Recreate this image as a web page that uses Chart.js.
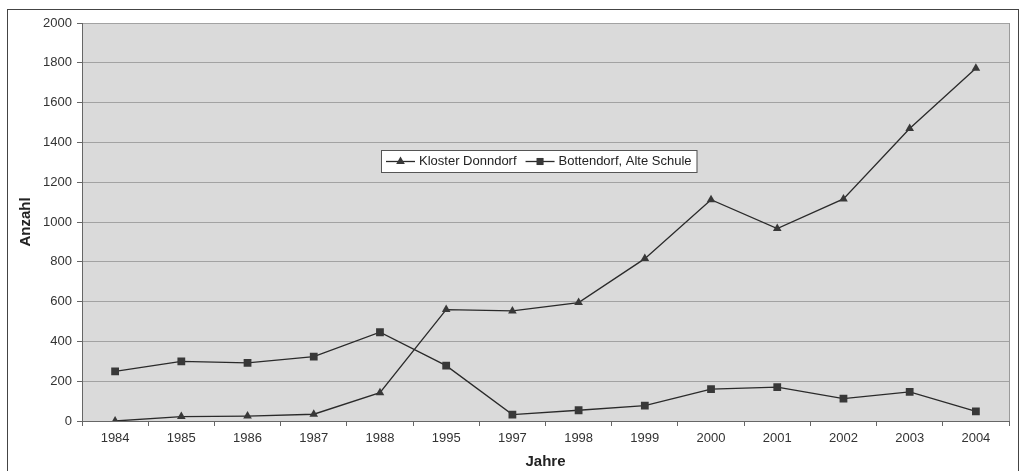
<!DOCTYPE html>
<html>
<head>
    <title>Kloster Donndorf / Bottendorf</title>
    <script src="https://cdn.jsdelivr.net/npm/chart.js"></script>
    <style>
        html, body { margin: 0; padding: 0; background: #fff; }
    </style>
</head>
<body>
    <canvas id="chart" width="1022" height="471"></canvas>

    <script>
    // Daten
    const jahre = ['1984', '1985', '1986', '1987', '1988', '1995', '1997', '1998', '1999', '2000', '2001', '2002', '2003', '2004'];
    const klosterDonndorf = [0, 22, 25, 34, 142, 560, 553, 595, 816, 1112, 967, 1116, 1470, 1773];
    const bottendorf = [249, 300, 292, 323, 446, 278, 32, 54, 77, 160, 170, 112, 146, 48];
    const yTicks = { min: 0, max: 2000, step: 200 };

    const lineColor = '#2a2a2a';
    const markColor = '#383838';
    const fontFamily = '"Liberation Sans", Arial, sans-serif';

    // Hintergrund, Rahmen
    const frame = {
        id: 'frame',
        beforeDraw(chart) {
            const { ctx, chartArea: a } = chart;
            ctx.save();
            ctx.fillStyle = '#fff';
            ctx.fillRect(0, 0, chart.width, chart.height);
            ctx.fillStyle = '#dadada';
            ctx.fillRect(a.left, a.top, a.right - a.left, a.bottom - a.top);
            ctx.strokeStyle = '#444';
            ctx.lineWidth = 1;
            ctx.strokeRect(7.5, 9.5, 1011, 470);
            ctx.strokeStyle = '#9a9a9a';
            ctx.beginPath();
            ctx.moveTo(a.right + 0.5, a.top);
            ctx.lineTo(a.right + 0.5, a.bottom);
            ctx.stroke();
            ctx.restore();
        }
    };

    // Legende im Diagramm (Linie mit Marker)
    const innerLegend = {
        id: 'innerLegend',
        afterDraw(chart) {
            const { ctx } = chart;
            ctx.save();
            ctx.font = '13px ' + fontFamily;
            ctx.textBaseline = 'middle';
            const items = chart.data.datasets.map(ds => ({
                label: ds.label, style: ds.pointStyle, w: ctx.measureText(ds.label).width
            }));
            const lineW = 29, gap = 4, itemGap = 9, padX = 5;
            let total = padX * 2;
            items.forEach((it, i) => { total += lineW + gap + it.w + (i ? itemGap : 0); });
            const cx = 539, top = 150, h = 22;
            const left = Math.round(cx - total / 2);
            ctx.fillStyle = '#fff';
            ctx.fillRect(left, top, total, h);
            ctx.strokeStyle = '#555';
            ctx.lineWidth = 1;
            ctx.strokeRect(left + 0.5, top + 0.5, total, h);
            let x = left + padX;
            const y = top + h / 2 + 0.5;
            items.forEach((it, i) => {
                if (i) x += itemGap;
                ctx.strokeStyle = lineColor;
                ctx.lineWidth = 1.3;
                ctx.beginPath();
                ctx.moveTo(x, y);
                ctx.lineTo(x + lineW, y);
                ctx.stroke();
                ctx.fillStyle = markColor;
                Chart.helpers.drawPoint(ctx, { pointStyle: it.style, radius: 5, rotation: 0, borderWidth: 0 }, x + lineW / 2, y);
                ctx.fillStyle = '#222';
                ctx.fillText(it.label, x + lineW + gap, y);
                x += lineW + gap + it.w;
            });
            ctx.restore();
        }
    };

    new Chart(document.getElementById('chart'), {
        type: 'line',
        data: {
            labels: jahre,
            datasets: [{
                label: 'Kloster Donndorf',
                data: klosterDonndorf,
                borderColor: lineColor,
                borderWidth: 1.3,
                pointStyle: 'triangle',
                pointRadius: 5,
                pointBackgroundColor: markColor,
                pointBorderColor: markColor,
                pointBorderWidth: 0,
                tension: 0
            }, {
                label: 'Bottendorf, Alte Schule',
                data: bottendorf,
                borderColor: lineColor,
                borderWidth: 1.3,
                pointStyle: 'rect',
                pointRadius: 5.5,
                pointBackgroundColor: markColor,
                pointBorderColor: markColor,
                pointBorderWidth: 0,
                tension: 0
            }]
        },
        options: {
            responsive: false,
            animation: false,
            layout: { padding: { top: 23, right: 13, left: 0, bottom: 0 } },
            plugins: {
                legend: { display: false },
                tooltip: { enabled: false }
            },
            scales: {
                x: {
                    offset: true,
                    afterFit: s => { s.height = 50; },
                    grid: {
                        offset: true,
                        drawOnChartArea: false,
                        drawTicks: true,
                        tickLength: 5,
                        color: '#666'
                    },
                    border: { display: true, color: '#666' },
                    ticks: {
                        color: '#333',
                        padding: 5,
                        maxRotation: 0,
                        font: { family: fontFamily, size: 13 }
                    },
                    title: {
                        display: true,
                        text: 'Jahre',
                        color: '#222',
                        padding: { top: 0, bottom: 0 },
                        font: { family: fontFamily, size: 15, weight: 'bold' }
                    }
                },
                y: {
                    min: yTicks.min,
                    max: yTicks.max,
                    afterFit: s => { s.width = 82; },
                    grid: {
                        color: '#a2a2a2',
                        tickColor: '#666',
                        tickLength: 5,
                        lineWidth: 1
                    },
                    border: { display: true, color: '#666' },
                    ticks: {
                        stepSize: yTicks.step,
                        color: '#333',
                        padding: 5,
                        callback: v => String(v),
                        font: { family: fontFamily, size: 13 }
                    },
                    title: {
                        display: true,
                        text: 'Anzahl',
                        color: '#222',
                        padding: { top: 17, bottom: 0 },
                        font: { family: fontFamily, size: 15, weight: 'bold' }
                    }
                }
            }
        },
        plugins: [frame, innerLegend]
    });
    </script>
</body>
</html>
